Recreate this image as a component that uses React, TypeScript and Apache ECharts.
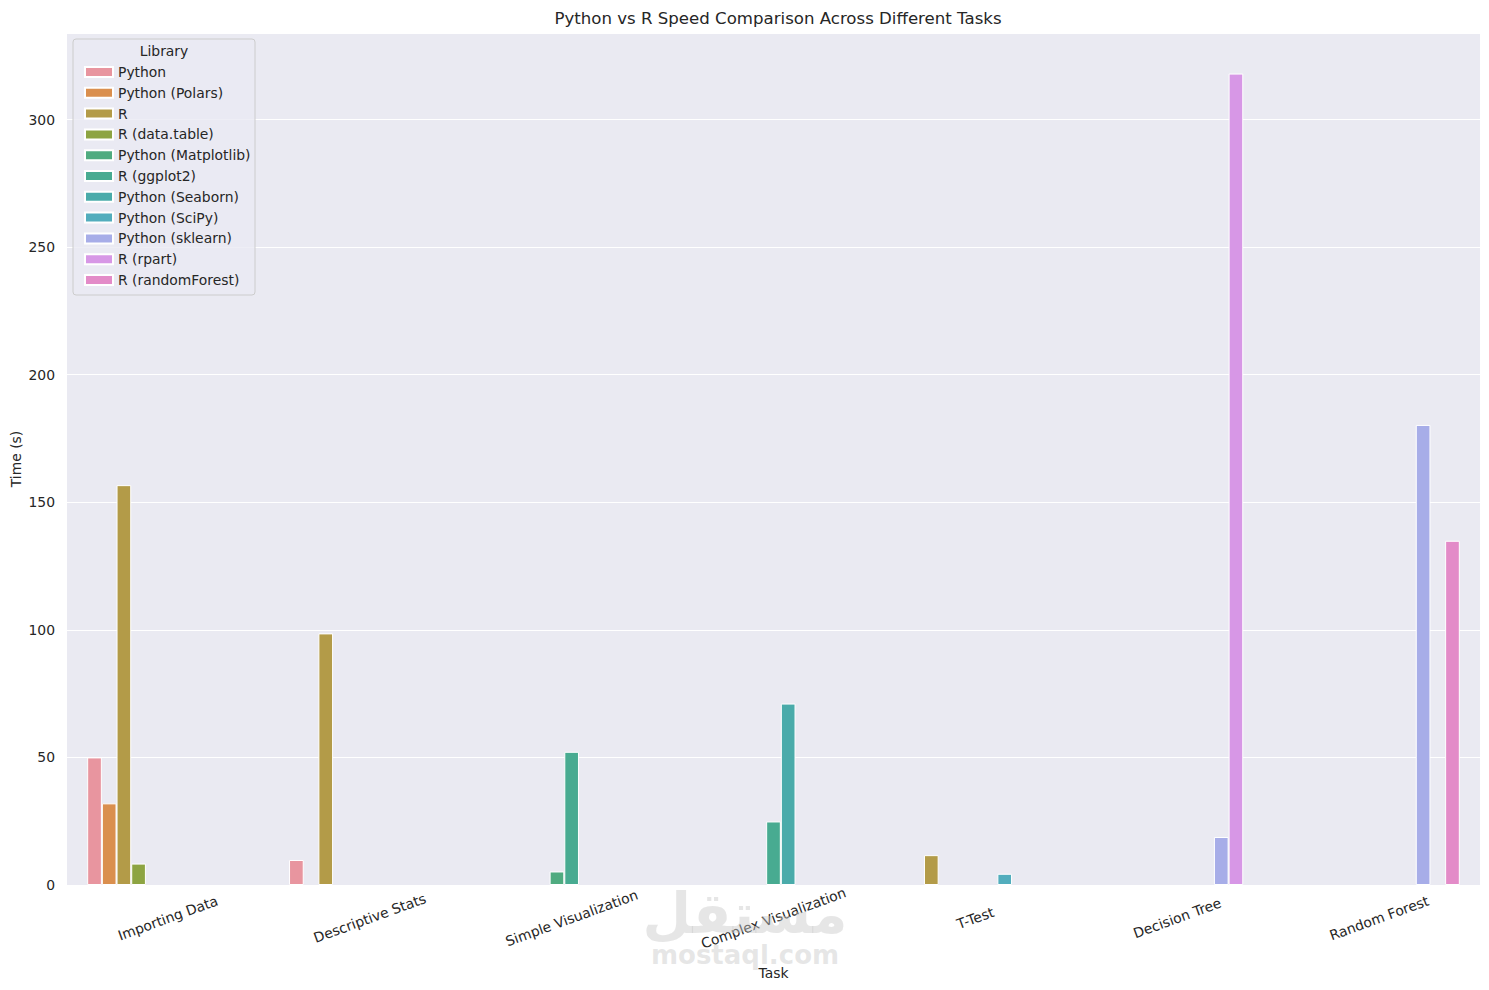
import React, { useEffect, useRef } from "react";
import * as echarts from "echarts";

const tasks = [
  "Importing Data",
  "Descriptive Stats",
  "Simple Visualization",
  "Complex Visualization",
  "T-Test",
  "Decision Tree",
  "Random Forest",
];

const libraries = [
  "Python",
  "Python (Polars)",
  "R",
  "R (data.table)",
  "Python (Matplotlib)",
  "R (ggplot2)",
  "Python (Seaborn)",
  "Python (SciPy)",
  "Python (sklearn)",
  "R (rpart)",
  "R (randomForest)",
];

const libColors = [
  "#e8959f",
  "#da8f4e",
  "#b39b48",
  "#8da442",
  "#4fab80",
  "#48ab91",
  "#4aabaa",
  "#52adbd",
  "#a7ade8",
  "#d797e6",
  "#e38bc8",
];

const pythonVals = [50, 9.8, null, null, null, null, null];
const polarsVals = [32, null, null, null, null, null, null];
const rVals = [156.7, 98.6, null, null, 11.7, null, null];
const dataTableVals = [8.4, null, null, null, null, null, null];
const matplotlibVals = [null, null, 5.3, null, null, null, null];
const ggplot2Vals = [null, null, 52.2, 24.9, null, null, null];
const seabornVals = [null, null, null, 71.1, null, null, null];
const scipyVals = [null, null, null, null, 4.4, null, null];
const sklearnVals = [null, null, null, null, null, 18.8, 180.3];
const rpartVals = [null, null, null, null, null, 318, null];
const randomForestVals = [null, null, null, null, null, null, 134.9];

const seriesValues = [
  pythonVals,
  polarsVals,
  rVals,
  dataTableVals,
  matplotlibVals,
  ggplot2Vals,
  seabornVals,
  scipyVals,
  sklearnVals,
  rpartVals,
  randomForestVals,
];

const yTickInterval = 50;
const yMax = 333.9;

const FONT = "DejaVu Sans";
const TEXT = "#262626";
const FS = 13.9;

export default function App() {
  const ref = useRef<HTMLDivElement>(null);

  useEffect(() => {
    if (!ref.current) return;
    const chart = echarts.init(ref.current, null, { renderer: "svg" });
    const series = libraries.map((name, i) => ({
      name,
      type: "bar",
      data: seriesValues[i].map((v) => (v === null ? "-" : v)),
      barGap: "0%",
      barCategoryGap: "20%",
      itemStyle: {
        color: libColors[i],
        borderColor: "#ffffff",
        borderWidth: 1,
      },
      emphasis: { disabled: true },
    }));

    chart.setOption({
      animation: false,
      backgroundColor: "#ffffff",
      textStyle: { fontFamily: FONT, color: TEXT },
      title: {
        text: "Python vs R Speed Comparison Across Different Tasks",
        left: 773,
        top: 5,
        textAlign: "center",
        textStyle: {
          fontFamily: FONT,
          fontSize: 16.6,
          fontWeight: "normal",
          color: TEXT,
        },
      },
      grid: {
        left: 67,
        right: 9,
        top: 33,
        bottom: 105,
        show: true,
        backgroundColor: "#eaeaf2",
        borderWidth: 0,
        containLabel: false,
        outerBoundsMode: "none",
      },
      legend: {
        orient: "vertical",
        left: 79,
        top: 59,
        itemWidth: 28,
        itemHeight: 10,
        itemGap: 4.8,
        icon: "rect",
        data: libraries,
        textStyle: {
          fontFamily: FONT,
          fontSize: FS,
          color: TEXT,
          lineHeight: 16,
        },
        selectedMode: false,
        z: 10,
      },
      xAxis: {
        type: "category",
        data: tasks,
        name: "Task",
        nameLocation: "middle",
        nameGap: 81,
        nameTextStyle: { fontFamily: FONT, fontSize: FS, color: TEXT },
        axisLine: { show: false },
        axisTick: { show: false },
        splitLine: { show: false },
        axisLabel: {
          rotate: 20,
          align: "center",
          verticalAlign: "middle",
          margin: 33,
          fontFamily: FONT,
          fontSize: FS,
          color: TEXT,
        },
      },
      yAxis: {
        type: "value",
        min: 0,
        max: yMax,
        interval: yTickInterval,
        name: "Time (s)",
        nameLocation: "middle",
        nameGap: 44,
        nameMoveOverlap: false,
        nameRotate: 90,
        nameTextStyle: { fontFamily: FONT, fontSize: FS, color: TEXT },
        axisLine: { show: false },
        axisTick: { show: false },
        axisLabel: {
          showMaxLabel: false,
          margin: 12,
          fontFamily: FONT,
          fontSize: FS,
          color: TEXT,
        },
        splitLine: { show: true, lineStyle: { color: "#ffffff", width: 1 } },
      },
      graphic: [
        {
          type: "rect",
          shape: { x: 73, y: 39, width: 182, height: 256, r: 3 },
          style: { fill: "rgba(234,234,242,0.8)", stroke: "#cccccc", lineWidth: 1 },
          z: 5,
        },
        {
          type: "text",
          x: 164,
          y: 51,
          style: {
            text: "Library",
            fontFamily: FONT,
            fontSize: FS,
            fill: TEXT,
            textAlign: "center",
            textVerticalAlign: "middle",
          },
          z: 6,
        },
        {
          type: "text",
          x: 745,
          y: 913,
          style: {
            text: "مستقل",
            fontFamily: FONT,
            fontSize: 56,
            fontWeight: "bold",
            fill: "rgba(200,200,200,0.45)",
            textAlign: "center",
            textVerticalAlign: "middle",
          },
          z: 20,
        },
        {
          type: "text",
          x: 745,
          y: 955,
          style: {
            text: "mostaql.com",
            fontFamily: FONT,
            fontSize: 26,
            fontWeight: "bold",
            fill: "rgba(200,200,200,0.45)",
            textAlign: "center",
            textVerticalAlign: "middle",
          },
          z: 20,
        },
      ],
      series,
    });

    return () => {
      chart.dispose();
    };
  }, []);

  return (
    <div
      ref={ref}
      style={{ position: "absolute", left: 0, top: 0, width: 1489, height: 990 }}
    />
  );
}
